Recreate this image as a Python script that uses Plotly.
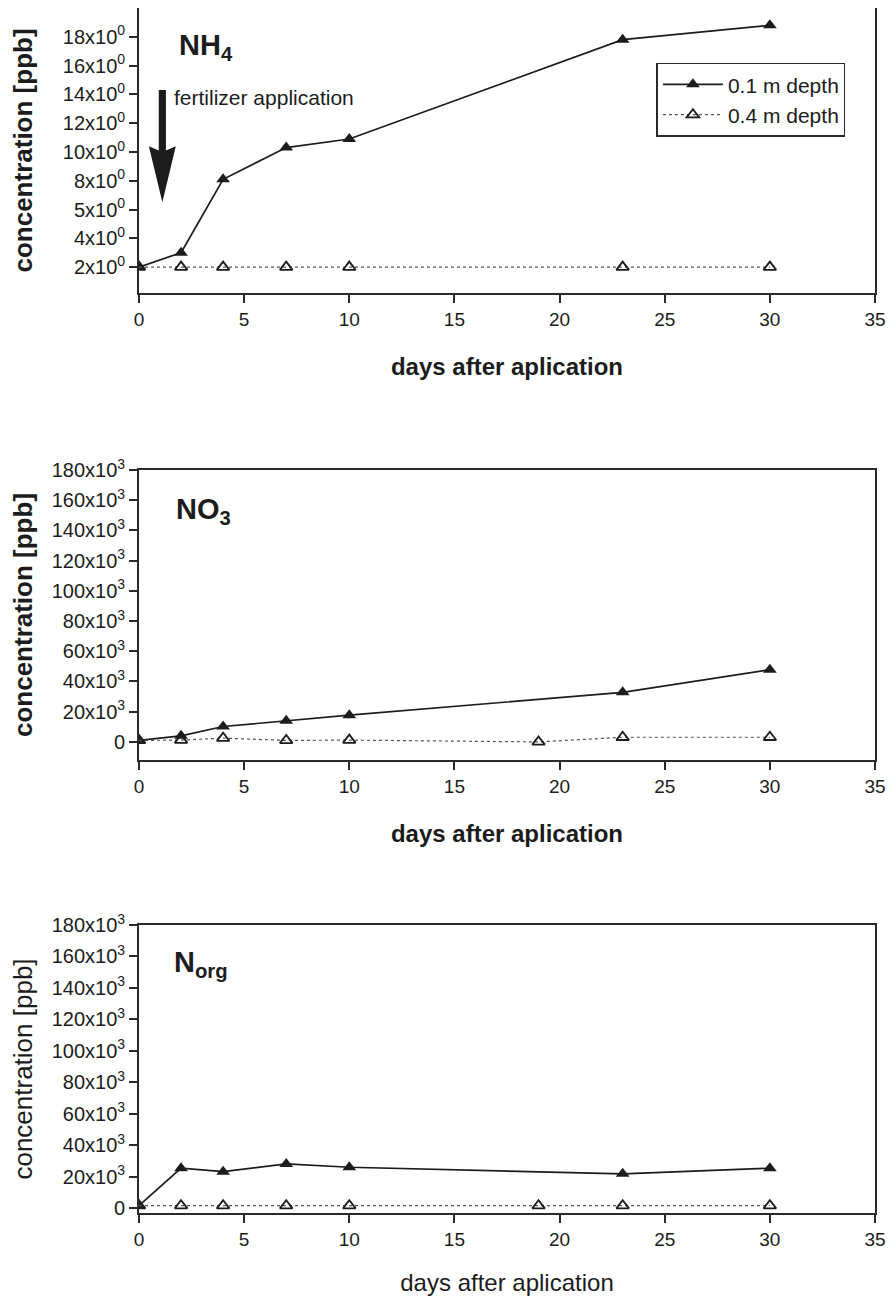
import plotly.graph_objects as go

# ---------------- data ----------------
days_01 = [0, 2, 4, 7, 10, 23, 30]
nh4_01 = [2.0, 3.0, 8.1, 10.3, 10.9, 17.8, 18.8]
days_nh4_04 = [0, 2, 4, 7, 10, 23, 30]
nh4_04 = [2.0, 2.0, 2.0, 2.0, 2.0, 2.0, 2.0]

no3_01 = [1000, 4000, 10200, 14000, 17700, 32800, 47800]
days_04 = [0, 2, 4, 7, 10, 19, 23, 30]
no3_04 = [1000, 1200, 2500, 1000, 1200, 0, 3100, 3100]

norg_01 = [1500, 25300, 23100, 28000, 25900, 21700, 25300]
norg_04 = [1500, 1500, 1500, 1500, 1500, 1500, 1500, 1500]

nh4_tickvals = [2, 4, 6, 8, 10, 12, 14, 16, 18]
nh4_ticktext = ["2x10<sup>0</sup>", "4x10<sup>0</sup>", "5x10<sup>0</sup>", "8x10<sup>0</sup>",
                "10x10<sup>0</sup>", "12x10<sup>0</sup>", "14x10<sup>0</sup>", "16x10<sup>0</sup>",
                "18x10<sup>0</sup>"]
n_tickvals = [0, 20000, 40000, 60000, 80000, 100000, 120000, 140000, 160000, 180000]
n_ticktext = ["0"] + [f"{v}x10<sup>3</sup>" for v in [20, 40, 60, 80, 100, 120, 140, 160, 180]]
x_ticks = [0, 5, 10, 15, 20, 25, 30, 35]

name_01 = "0.1 m depth"
name_04 = "0.4 m depth"

# ---------------- styling ----------------
FONT = "Liberation Sans, Arial, sans-serif"
INK = "#1c1c1c"
AXC = "#2a2a2a"

fig = go.Figure()


def add_pair(xa, ya, x1, y1, x2, y2, show):
    fig.add_trace(go.Scatter(
        x=x1, y=y1, mode="lines+markers", name=name_01, xaxis=xa, yaxis=ya,
        line=dict(color=INK, width=1.7),
        marker=dict(symbol="triangle-up", size=12, color=INK),
        showlegend=show))
    fig.add_trace(go.Scatter(
        x=x2, y=y2, mode="lines+markers", name=name_04, xaxis=xa, yaxis=ya,
        line=dict(color="#555555", width=1.2, dash="dot"),
        marker=dict(symbol="triangle-up-open", size=11, color=INK, line=dict(width=1.8, color=INK)),
        showlegend=show))


add_pair("x", "y", days_01, nh4_01, days_nh4_04, nh4_04, True)
add_pair("x2", "y2", days_01, no3_01, days_04, no3_04, False)
add_pair("x3", "y3", days_01, norg_01, days_04, norg_04, False)


def xaxis(anchor, bold):
    return dict(
        anchor=anchor, domain=[0, 1], range=[0, 35], tickvals=x_ticks, automargin=False,
        ticks="outside", ticklen=8, tickwidth=1.5, tickcolor=AXC,
        showline=True, linecolor=AXC, linewidth=1.7, mirror=True,
        showgrid=False, zeroline=False, tickfont=dict(family=FONT, size=19, color=INK),
        title=dict(text="<b>days after aplication</b>" if bold else "days after aplication",
                   font=dict(family=FONT, size=24, color=INK), standoff=30),
    )


def yaxis(anchor, dom, rng, tv, tt, bold):
    return dict(
        anchor=anchor, domain=dom, range=rng, tickvals=tv, ticktext=tt, automargin=True,
        ticks="outside", ticklen=8, tickwidth=1.5, tickcolor=AXC,
        showline=True, linecolor=AXC, linewidth=1.7, mirror=True,
        showgrid=False, zeroline=False, tickfont=dict(family=FONT, size=20, color=INK),
        title=dict(text="<b>concentration [ppb]</b>" if bold else "concentration [ppb]",
                   font=dict(family=FONT, size=26, color=INK), standoff=30),
    )


# page body has an 8px margin, so the figure is drawn 8px right/down
TOP = [0.7635, 1.0]
MID = [0.3759, 0.6166]
BOT = [0.0, 0.2390]
fig.update_layout(
    width=887, height=1288,
    margin=dict(l=131, r=20, t=0, b=83, autoexpand=False),
    paper_bgcolor="white", plot_bgcolor="white",
    font=dict(family=FONT, color=INK),
    xaxis=xaxis("y", True),
    xaxis2=xaxis("y2", True),
    xaxis3=xaxis("y3", False),
    yaxis=yaxis("x", TOP, [0.2, 20], nh4_tickvals, nh4_ticktext, True),
    yaxis2=yaxis("x2", MID, [-12000, 180000], n_tickvals, n_ticktext, True),
    yaxis3=yaxis("x3", BOT, [-3200, 180000], n_tickvals, n_ticktext, False),
    legend=dict(x=0.703, y=TOP[0] + 0.808 * (TOP[1] - TOP[0]), xref="paper", yref="paper",
                xanchor="left", yanchor="top", itemwidth=60,
                bordercolor=AXC, borderwidth=1.5, bgcolor="white",
                font=dict(family=FONT, size=21, color=INK), tracegroupgap=0),
    showlegend=True,
)

# panel labels
labels = [("NH<sub>4</sub>", "x domain", "y domain", 0.051, 0.864),
          ("NO<sub>3</sub>", "x2 domain", "y2 domain", 0.047, 0.859),
          ("N<sub>org</sub>", "x3 domain", "y3 domain", 0.045, 0.865)]
for txt, xr, yr, xx, yy in labels:
    fig.add_annotation(text=f"<b>{txt}</b>", xref=xr, yref=yr, x=xx, y=yy,
                       xanchor="left", yanchor="middle", showarrow=False,
                       font=dict(family=FONT, size=29, color=INK))

fig.add_annotation(text="fertilizer application", xref="x domain", yref="y domain",
                   x=(172 - 139) / 736, y=(293 - 97) / 286, xanchor="left", yanchor="middle",
                   showarrow=False, font=dict(family=FONT, size=21, color=INK))

# fertilizer arrow (in data units of top panel)
ax_c, sh, hh = 1.11, 0.17, 0.64
y_top, y_base, y_tip = 14.3, 10.1, 6.5
path = (f"M {ax_c - sh} {y_top} L {ax_c + sh} {y_top} L {ax_c + sh} {y_base} "
        f"L {ax_c + hh} {y_base + 0.3} L {ax_c} {y_tip} L {ax_c - hh} {y_base + 0.3} "
        f"L {ax_c - sh} {y_base} Z")
fig.add_shape(type="path", path=path, xref="x", yref="y", fillcolor=INK, line=dict(width=0))

fig.write_html("out.html")
